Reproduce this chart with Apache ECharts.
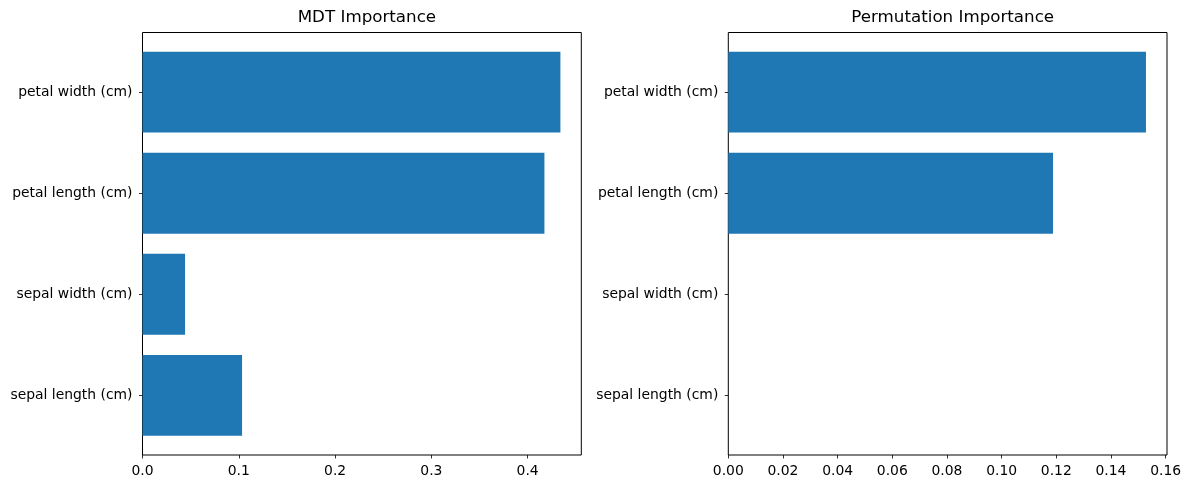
<!DOCTYPE html>
<html>
<head>
<meta charset="utf-8">
<script src="https://cdn.jsdelivr.net/npm/echarts@6/dist/echarts.min.js"></script>
<style>
  html, body { margin: 0; padding: 0; background: #fff; }
  #chart { width: 1189px; height: 490px; }
</style>
</head>
<body>
<div id="chart"></div>
<script>
const categories = ['sepal length (cm)', 'sepal width (cm)', 'petal length (cm)', 'petal width (cm)'];
const mdtValues = [0.1034, 0.0442, 0.4174, 0.4340];
const permValues = [0.0, 0.0, 0.1188, 0.1528];
const mdtTicks = [0, 0.1, 0.2, 0.3, 0.4];
const permTicks = [0, 0.02, 0.04, 0.06, 0.08, 0.10, 0.12, 0.14, 0.16];
const titles = ['MDT Importance', 'Permutation Importance'];

const FONT = 'DejaVu Sans';
const FS = 13.9;
const BAR = '#1f77b4';

const chart = echarts.init(document.getElementById('chart'), null, { renderer: 'canvas' });

function renderBar(params, api) {
  const v = api.value(0), i = api.value(1);
  const s = api.coord([0, i]);
  const e = api.coord([v, i]);
  const h = api.size([0, 0.8])[1];
  return {
    type: 'rect',
    shape: { x: s[0], y: s[1] - h / 2, width: e[0] - s[0], height: h },
    style: { fill: BAR }
  };
}

function xAxis(gridIndex, max, ticks, digits) {
  return {
    type: 'value', gridIndex, min: 0, max, position: 'bottom',
    axisLine: { show: false, onZero: false },
    splitLine: { show: false },
    axisTick: { show: true, inside: false, length: 3.5, lineStyle: { color: '#000', width: 0.8 }, customValues: ticks },
    axisLabel: { show: true, margin: 9, color: '#000', fontFamily: FONT, fontSize: FS, customValues: ticks,
      formatter: v => Number(v).toFixed(digits) }
  };
}
function yAxis(gridIndex) {
  return {
    type: 'value', gridIndex, min: -0.59, max: 3.59, position: 'left',
    axisLine: { show: false, onZero: false },
    splitLine: { show: false },
    axisTick: { show: true, inside: false, length: 3.5, lineStyle: { color: '#000', width: 0.8 }, customValues: [0, 1, 2, 3] },
    axisLabel: { show: true, margin: 10, color: '#000', fontFamily: FONT, fontSize: FS, customValues: [0, 1, 2, 3],
      padding: [4, 0, 0, 0],
      formatter: v => categories[Math.round(v)] }
  };
}

const option = {
  animation: false,
  backgroundColor: '#fff',
  title: [
    { text: titles[0], left: 361.9, top: 4, textAlign: 'center',
      textStyle: { fontFamily: FONT, fontSize: 16.7, fontWeight: 'normal', color: '#000' } },
    { text: titles[1], left: 947.7, top: 4, textAlign: 'center',
      textStyle: { fontFamily: FONT, fontSize: 16.7, fontWeight: 'normal', color: '#000' } }
  ],
  grid: [
    { left: 142.5, top: 32.5, width: 438.8, height: 422.5, show: true, borderColor: '#000', borderWidth: 1, backgroundColor: 'transparent' },
    { left: 728.3, top: 32.5, width: 438.7, height: 422.5, show: true, borderColor: '#000', borderWidth: 1, backgroundColor: 'transparent' }
  ],
  xAxis: [ xAxis(0, 0.4557, mdtTicks, 1), xAxis(1, 0.1605, permTicks, 2) ],
  yAxis: [ yAxis(0), yAxis(1) ],
  series: [
    { type: 'custom', xAxisIndex: 0, yAxisIndex: 0, renderItem: renderBar, encode: { x: 0, y: 1 },
      data: mdtValues.map((v, i) => [v, i]) },
    { type: 'custom', xAxisIndex: 1, yAxisIndex: 1, renderItem: renderBar, encode: { x: 0, y: 1 },
      data: permValues.map((v, i) => [v, i]) }
  ]
};
chart.setOption(option);
</script>
</body>
</html>
